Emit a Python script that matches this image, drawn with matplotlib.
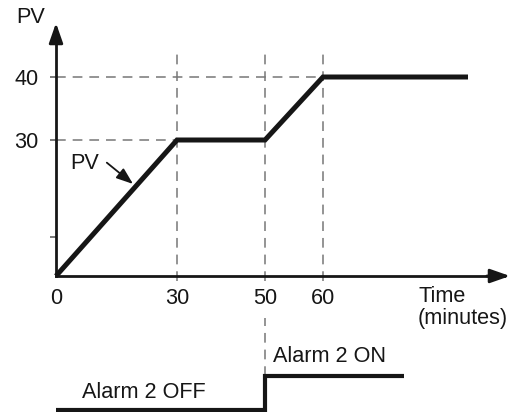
import numpy as np
import matplotlib
matplotlib.use('Agg')
import matplotlib.pyplot as plt

plt.rcParams['font.family'] = ['Liberation Sans', 'DejaVu Sans']
plt.rcParams['font.size'] = 15.6
plt.rcParams['lines.scale_dashes'] = False

# PV profile (minutes, PV)
time_pts = [0, 30, 50, 60, 85]
pv_pts = [0, 30, 30, 40, 40]

# alarm 2 output: 0 = OFF, 1 = ON
alarm_time = [0, 50, 74]
alarm_state = [0, 1, 1]

x_ticks = [0, 30, 50, 60]
y_ticks = [8.6, 30, 40]
y_tick_labels = ['', '30', '40']
guide_times = [30, 50, 60]
guide_levels = [30, 40]
guide_ends = [30, 60]

INK = '#161616'
GUIDE = '#777777'
DASH = (0, (7, 5))
W, H = 520, 412

# the sketch is not drawn to scale -> piecewise linear scales (value -> pixel)
X_KNOTS = ([0, 30, 50, 60], [56, 177, 265, 323])
Y_KNOTS = ([0, 30, 40], [136, 272, 335])


def lin_map(a, b):
    a = np.asarray(a, float)
    b = np.asarray(b, float)
    s0 = (b[1] - b[0]) / (a[1] - a[0])
    s1 = (b[-1] - b[-2]) / (a[-1] - a[-2])

    def f(v):
        v = np.asarray(v, float)
        out = np.interp(v, a, b)
        out = np.where(v < a[0], b[0] + (v - a[0]) * s0, out)
        out = np.where(v > a[-1], b[-1] + (v - a[-1]) * s1, out)
        return out
    return f


fx, fxi = lin_map(*X_KNOTS), lin_map(X_KNOTS[1], X_KNOTS[0])
fy, fyi = lin_map(*Y_KNOTS), lin_map(Y_KNOTS[1], Y_KNOTS[0])

fig = plt.figure(figsize=(W / 100, H / 100), dpi=100)
ax = fig.add_axes([0, 0, 1, 1])
ax.patch.set_alpha(0)
ax.set_xscale('function', functions=(fx, fxi))
ax.set_yscale('function', functions=(fy, fyi))
ax.set_xlim(float(fxi(0)), float(fxi(W)))
ax.set_ylim(float(fyi(0)), float(fyi(H)))

x_tip = float(fxi(510))
y_tip = float(fyi(H - 23))
y_guide_top = float(fyi(H - 48))
y_guide_bot = float(fyi(H - 281))

# axes with arrow heads
for s in ['top', 'right']:
    ax.spines[s].set_visible(False)
ax.spines['left'].set_position(('data', 0))
ax.spines['bottom'].set_position(('data', 0))
ax.spines['left'].set_bounds(0, y_tip - 1)
ax.spines['bottom'].set_bounds(0, x_tip - 1)
for s in ['left', 'bottom']:
    ax.spines[s].set_linewidth(2)
    ax.spines[s].set_color(INK)
head = dict(arrowstyle='-|>,head_length=1.2,head_width=0.42', mutation_scale=10,
            lw=2, color=INK, shrinkA=0, shrinkB=0)
ax.annotate('', xy=(x_tip, 0), xytext=(x_tip - 4, 0), arrowprops=head,
            annotation_clip=False)
ax.annotate('', xy=(0, y_tip), xytext=(0, y_tip - 2), arrowprops=head,
            annotation_clip=False)

ax.set_xticks(x_ticks, [str(t) for t in x_ticks])
ax.set_yticks(y_ticks, y_tick_labels)
ax.tick_params(axis='x', length=0, pad=9, labelcolor=INK)
ax.tick_params(axis='y', length=4.5, width=1.1, color='#555555', pad=8,
               labelcolor=INK, direction='out')
ax.minorticks_off()

# dashed guide lines
ax.vlines(guide_times, y_guide_bot, y_guide_top, colors=GUIDE, lw=1.1, linestyles=DASH)
ax.hlines(guide_levels, 0, guide_ends, colors=GUIDE, lw=1.1, linestyles=DASH)

ax.plot(time_pts, pv_pts, color=INK, lw=3.6, solid_joinstyle='miter',
        solid_capstyle='butt', zorder=5)

ax.annotate('PV', xy=(0, y_tip), xytext=(-8, 4), textcoords='offset points',
            ha='right', va='center', color=INK)
# PV callout
ax.text(7.2, 24.8, 'PV', ha='center', va='center', color=INK)
ax.annotate('', xy=(19.1, 20.3), xytext=(12.6, 25.0),
            arrowprops=dict(arrowstyle='-|>,head_length=0.65,head_width=0.24',
                            lw=1.3, color=INK, shrinkA=0, shrinkB=0))
ax.annotate('Time\n(minutes)', xy=(76.4, 0), xytext=(0, -7),
            textcoords='offset points', ha='left', va='top', linespacing=1.05,
            color=INK)

# alarm output strip
ax2 = fig.add_axes([0, 0, 1, 100 / H])
ax2.set_axis_off()
ax2.set_xscale('function', functions=(fx, fxi))
ax2.set_xlim(ax.get_xlim())
ax2.set_ylim(-2.5 / 33.5, 97.5 / 33.5)
ax2.vlines(50, 1, 91.5 / 33.5, colors=GUIDE, lw=1.1, linestyles=DASH)
ax2.plot(alarm_time, alarm_state, drawstyle='steps-post', lw=3, color=INK,
         solid_joinstyle='miter', solid_capstyle='butt', clip_on=False)
ax2.annotate('Alarm 2 OFF', xy=(6.4, 0), xytext=(0, 8), textcoords='offset points',
             ha='left', va='baseline', color=INK)
ax2.annotate('Alarm 2 ON', xy=(51.4, 1), xytext=(0, 10), textcoords='offset points',
             ha='left', va='baseline', color=INK)

fig.savefig('out.png', dpi=100)
